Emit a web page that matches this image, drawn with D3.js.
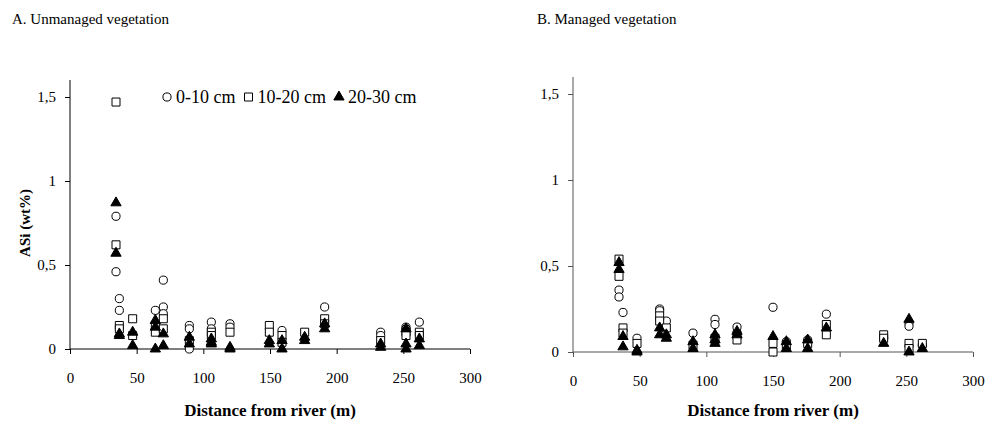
<!DOCTYPE html>
<html><head><meta charset="utf-8">
<script src="https://cdn.jsdelivr.net/npm/d3@7/dist/d3.min.js"></script>
<style>body{margin:0;background:#fff}svg{display:block}text{font-family:"Liberation Serif","Times New Roman",serif;fill:#000}</style>
</head><body><svg id="c" width="989" height="427"></svg>
<script>
// ---- data: [distance from river (m), ASi (wt%)] ----
const xTicks = [0, 50, 100, 150, 200, 250, 300];
const yTicks = [0, 0.5, 1, 1.5];
const seriesNames = ["0-10 cm", "10-20 cm", "20-30 cm"];

const unmanaged_0_10 = [[34.5,0.79],[34.5,0.46],[37,0.30],[37,0.23],[64,0.23],[70,0.41],[70,0.25],[70,0.21],[89.5,0.14],[89.5,0.12],[89.5,0.0],[106,0.16],[106,0.12],[120,0.15],[120,0.13],[159,0.11],[191,0.25],[233,0.10],[233,0.08],[252,0.13],[252,0.12],[262,0.16]];
const unmanaged_10_20 = [[34.5,1.47],[34.5,0.62],[37,0.14],[37,0.12],[47,0.18],[47,0.08],[64,0.14],[64,0.10],[70,0.18],[70,0.12],[89.5,0.05],[106,0.10],[106,0.08],[120,0.10],[149.5,0.14],[149.5,0.10],[159,0.08],[159,0.04],[176,0.10],[191,0.18],[191,0.15],[233,0.05],[252,0.10],[252,0.08],[262,0.10],[262,0.08]];
const unmanaged_20_30 = [[34.5,0.87],[34.5,0.57],[37,0.09],[37,0.08],[47,0.10],[47,0.02],[64,0.17],[64,0.13],[64,0.0],[70,0.09],[70,0.02],[89.5,0.07],[89.5,0.03],[106,0.06],[106,0.04],[106,0.03],[120,0.01],[120,0.0],[149.5,0.05],[149.5,0.03],[159,0.05],[159,0.0],[176,0.07],[176,0.05],[191,0.15],[191,0.12],[233,0.03],[233,0.01],[252,0.12],[252,0.03],[252,0.0],[262,0.06],[262,0.02]];

const managed_0_10 = [[34.5,0.36],[34.5,0.32],[37.5,0.23],[48,0.08],[65,0.25],[65,0.24],[70,0.18],[90,0.11],[106.5,0.19],[106.5,0.16],[123,0.145],[150,0.26],[160,0.06],[176,0.07],[190,0.22],[233,0.08],[252,0.17],[252,0.15],[262,0.04]];
const managed_10_20 = [[34.5,0.54],[34.5,0.44],[37.5,0.14],[37.5,0.11],[48,0.05],[65,0.21],[65,0.18],[70,0.14],[90,0.04],[106.5,0.08],[123,0.10],[123,0.07],[150,0.05],[150,0.0],[160,0.04],[176,0.05],[190,0.16],[190,0.10],[233,0.10],[233,0.08],[252,0.05],[252,0.02],[262,0.05]];
const managed_20_30 = [[34.5,0.52],[34.5,0.48],[37.5,0.09],[37.5,0.03],[48,0.01],[48,0.0],[65,0.14],[65,0.10],[70,0.10],[70,0.08],[90,0.06],[90,0.02],[106.5,0.10],[106.5,0.07],[106.5,0.05],[123,0.12],[123,0.10],[150,0.09],[160,0.06],[160,0.02],[176,0.07],[176,0.02],[190,0.14],[233,0.05],[252,0.19],[252,0.0],[262,0.02]];

const panels = [
  {title: "A. Unmanaged vegetation", ylabel: "ASi (wt%)", legend: true, axisColor: "#000",
   x0: 70, x1: 470, yb: 349, yt: 97, tx: 12,
   series: [unmanaged_0_10, unmanaged_10_20, unmanaged_20_30]},
  {title: "B. Managed vegetation", ylabel: null, legend: false, axisColor: "#555",
   x0: 573, x1: 973, yb: 352, yt: 94, tx: 537,
   series: [managed_0_10, managed_10_20, managed_20_30]}
];

const svg = d3.select("#c");
const sym = [d3.symbolCircle, d3.symbolSquare, d3.symbolTriangle];
const symSize = [52, 64, 46];
const symFill = ["#fff", "#fff", "#000"];

function drawMark(g, i, x, y) {
  g.append("path").attr("d", d3.symbol().type(sym[i]).size(symSize[i])())
    .attr("transform", `translate(${x},${y})`)
    .attr("fill", symFill[i]).attr("stroke", "#000").attr("stroke-width", 1);
}

panels.forEach(p => {
  const x = d3.scaleLinear().domain([0, 300]).range([p.x0, p.x1]);
  const y = d3.scaleLinear().domain([0, 1.5]).range([p.yb, p.yt]);
  const g = svg.append("g");

  g.append("text").attr("x", p.tx).attr("y", 24).attr("font-size", 15).text(p.title);

  const xa = g.append("g").attr("transform", `translate(0,${p.yb})`)
    .call(d3.axisBottom(x).tickValues(xTicks).tickSize(5).tickPadding(18).tickFormat(d3.format("d")));
  const ya = g.append("g").attr("transform", `translate(${p.x0},0)`)
    .call(d3.axisLeft(y).tickValues(yTicks).tickSize(5).tickPadding(9).tickFormat(d => String(d).replace(".", ",")));
  [xa, ya].forEach(a => {
    a.select(".domain").remove();
    a.selectAll("line").attr("stroke", p.axisColor);
    a.selectAll("text").attr("font-family", "Liberation Serif").attr("font-size", 15).attr("fill", "#000");
  });
  g.append("line").attr("x1", p.x0).attr("x2", p.x1).attr("y1", p.yb).attr("y2", p.yb).attr("stroke", p.axisColor);
  g.append("line").attr("x1", p.x0).attr("x2", p.x0).attr("y1", p.yb).attr("y2", p.yt - 17).attr("stroke", p.axisColor);

  g.append("text").attr("x", (p.x0 + p.x1) / 2).attr("y", 416).attr("text-anchor", "middle")
    .attr("font-size", 17).attr("font-weight", "bold").text("Distance from river (m)");
  if (p.ylabel) {
    g.append("text").attr("transform", `translate(${p.x0 - 40},${(p.yb + p.yt) / 2}) rotate(-90)`)
      .attr("text-anchor", "middle").attr("font-size", 15).attr("font-weight", "bold").text(p.ylabel);
  }

  p.series.forEach((s, i) => {
    s.forEach(d => drawMark(g, i, x(d[0]), y(d[1])));
  });

  if (p.legend) {
    let lx = 167;
    const ly = 98;
    seriesNames.forEach((n, i) => {
      drawMark(g, i, lx, ly - 1);
      const t = g.append("text").attr("x", lx + 9).attr("y", ly + 5).attr("font-size", 18).text(n);
      lx += 9 + t.node().getComputedTextLength() + 13;
    });
  }
});
</script></body></html>
